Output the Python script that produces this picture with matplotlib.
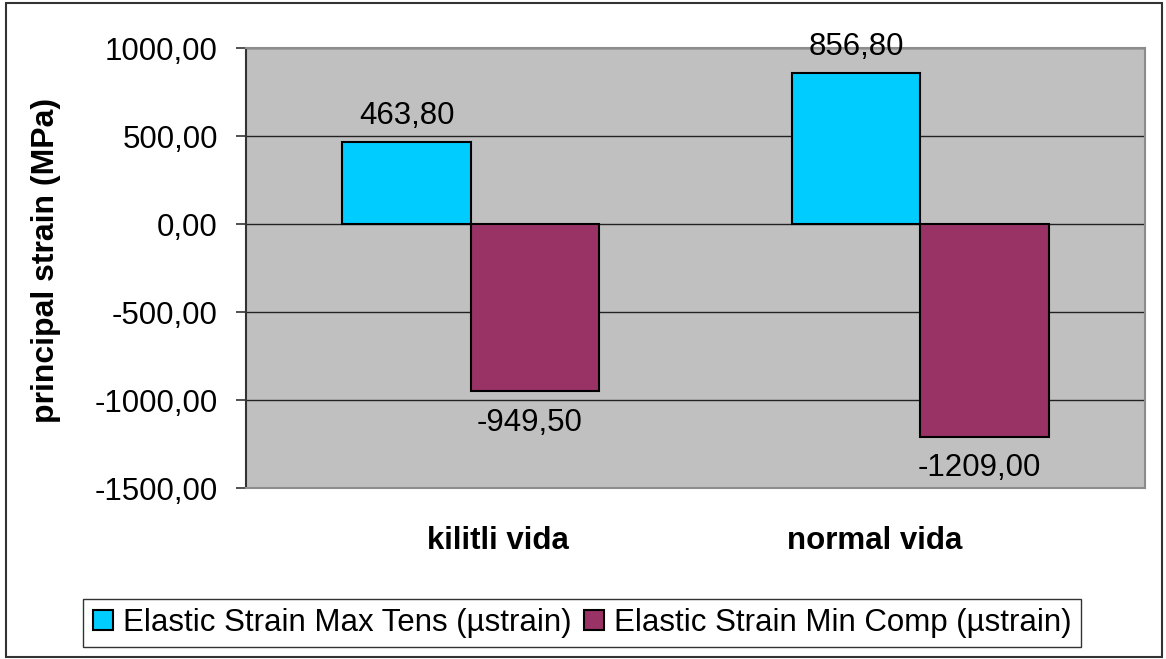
import numpy as np
import matplotlib.pyplot as plt
from matplotlib.patches import Rectangle
from matplotlib.transforms import blended_transform_factory

plt.rcParams['font.family'] = ['Liberation Sans', 'DejaVu Sans']

categories = ['kilitli vida', 'normal vida']
series_names = ['Elastic Strain Max Tens (µstrain)', 'Elastic Strain Min Comp (µstrain)']
max_tens = [463.80, 856.80]
min_comp = [-949.50, -1209.00]
series_colors = ['#00CCFF', '#993366']
y_ticks = [-1500, -1000, -500, 0, 500, 1000]

FS = 22.5


def fmt(v):
    return f'{v:.2f}'.replace('.', ',')


def main():
    W, H = 1166, 659
    fig = plt.figure(figsize=(W / 100, H / 100), dpi=100)
    ax = fig.add_axes([246 / W, 1 - 488 / H, 899 / W, 440 / H])
    ax.set_facecolor('#C0C0C0')

    x = np.arange(len(categories))
    width = 1 / 3.5

    bars1 = ax.bar(x - width / 2, max_tens, width, color=series_colors[0],
                   edgecolor='black', linewidth=1.5, label=series_names[0], zorder=3)
    bars2 = ax.bar(x + width / 2, min_comp, width, color=series_colors[1],
                   edgecolor='black', linewidth=1.5, label=series_names[1], zorder=3)

    # value labels above positive bars, below negative ones
    for bars in (bars1, bars2):
        for b in bars:
            v = b.get_height()
            cx = b.get_x() + b.get_width() / 2
            if v >= 0:
                ax.annotate(fmt(v), (cx, v), xytext=(0, 8), textcoords='offset points',
                            ha='center', va='bottom', fontsize=FS)
            else:
                ax.annotate(fmt(v), (cx, v), xytext=(-4, -12), textcoords='offset points',
                            ha='center', va='top', fontsize=FS)

    ax.set_xlim(-0.5, 1.5)
    ax.set_ylim(-1500, 1000)
    ax.set_yticks(y_ticks)
    ax.set_yticklabels([fmt(t) for t in y_ticks], fontsize=FS)
    ax.tick_params(axis='y', direction='out', length=7.2, width=1.2, color='#333333', pad=13)
    ax.set_xticks([])
    ax.yaxis.grid(True, color='#222222', linewidth=1.0, zorder=1)

    for side in ('top', 'right', 'bottom'):
        ax.spines[side].set_color('#8C8C8C')
        ax.spines[side].set_linewidth(1.5)
    ax.spines['left'].set_color('#333333')
    ax.spines['left'].set_linewidth(1.5)

    # category names sit below the plot area
    trans = blended_transform_factory(ax.transData, ax.transAxes)
    label_pos = [0.061, 0.898]
    for pos, name in zip(label_pos, categories):
        ax.text(pos, -0.12, name, transform=trans, ha='center', va='center',
                fontsize=FS, fontweight='bold')

    fig.text(46 / W, 1 - 260 / H, 'principal strain (MPa)', rotation=90,
             ha='center', va='center', fontsize=23, fontweight='bold')

    leg = fig.legend(loc='center', bbox_to_anchor=(582 / W, 1 - 623 / H), ncol=2,
                     fontsize=FS, frameon=True, fancybox=False, edgecolor='black',
                     handlelength=0.64, handleheight=0.64, handletextpad=0.32,
                     columnspacing=0.4, borderpad=0.3, borderaxespad=0)
    leg.get_frame().set_linewidth(1.0)
    for h in leg.legend_handles:
        h.set_edgecolor('black')
        h.set_linewidth(1.5)

    # outer chart border
    fig.patches.append(Rectangle((6 / W, 2 / H), 1156 / W, 654 / H,
                                 transform=fig.transFigure, fill=False,
                                 edgecolor='#333333', linewidth=1.5))

    fig.savefig('out.png', dpi=100)
    plt.close(fig)


if __name__ == '__main__':
    main()
